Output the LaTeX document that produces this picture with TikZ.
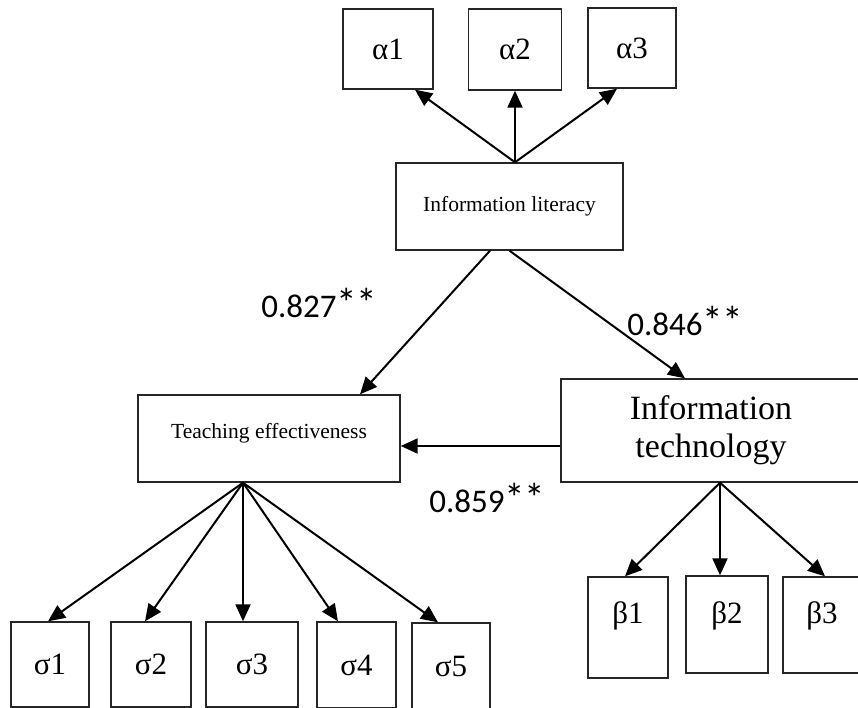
\documentclass[tikz,border=0pt]{standalone}
\usepackage{fontspec}
\setmainfont{Liberation Serif}
\newfontfamily\numfont{Carlito}
\usetikzlibrary{arrows.meta,calc}
\newcommand{\stars}{\raisebox{-0.5pt}{\scalebox{1.25}{*}}\kern-1pt\raisebox{-0.5pt}{\scalebox{1.25}{*}}}
\begin{document}
\begin{tikzpicture}[x=1pt,y=-1pt,
  box/.style 2 args={draw=black!85,line width=1.4pt,inner sep=0pt,minimum width=#1,minimum height=#2},
  greek/.style={font=\fontsize{31}{34}\selectfont},
  small/.style={font=\fontsize{21.5}{25}\selectfont},
  big/.style={font=\fontsize{34}{38}\selectfont,align=center},
  arr/.style={-{Triangle[length=17pt,width=15pt]},line width=2pt},
  lab/.style={font=\numfont\fontsize{33}{38}\selectfont}]
\useasboundingbox (0,0) rectangle (858,708);
\fill[white] (0,0) rectangle (858,708);
\clip (0,0) rectangle (858,708);
% top indicators
\node[box={90pt}{80pt},greek] (a1) at (388,49) {α1};
\node[box={93pt}{81pt},greek] (a2) at (515,49.5) {α2};
\node[box={88pt}{80pt},greek] (a3) at (632,48) {α3};
% constructs
\node[box={227pt}{87pt},small] (IL) at (509.5,206.5) {Information literacy};
\node[box={262pt}{87pt},small] (TE) at (269,438.5) {\raisebox{5.5pt}[\height][\depth]{Teaching effectiveness}};
\node[box={300pt}{103pt},big] (IT) at (711,430.5) {Information\\technology};
% beta indicators
\node[box={80pt}{101pt},greek] (b1) at (628,627.5) {\raisebox{12pt}[\height][\depth]{β1}};
\node[box={82pt}{97pt},greek] (b2) at (727,624.5) {\raisebox{9pt}[\height][\depth]{β2}};
\node[box={78pt}{96pt},greek] (b3) at (822,625) {\raisebox{9pt}[\height][\depth]{β3}};
% sigma indicators
\node[box={78pt}{85pt},greek] (s1) at (50,664.5) {σ1};
\node[box={80pt}{85pt},greek] (s2) at (151,664.5) {σ2};
\node[box={92pt}{85pt},greek] (s3) at (252,664.5) {σ3};
\node[box={79pt}{86pt},greek] (s4) at (356.5,665) {σ4};
\node[box={78pt}{86pt},greek] (s5) at (451,666) {σ5};
% arrows IL -> alpha
\coordinate (ILtop) at ([xshift=5.5pt]IL.north);
\draw[arr] (ILtop) -- ([xshift=27pt]a1.south);
\draw[arr] (ILtop) -- (a2.south);
\draw[arr] (ILtop) -- ([xshift=-15pt]a3.south);
% structural paths
\draw[arr] ([xshift=-19.5pt]IL.south) -- ([xshift=91pt]TE.north);
\draw[arr] (IL.south) -- ([xshift=-26pt]IT.north);
\draw[arr] ([yshift=-15.5pt]IT.west) -- ([yshift=-15.5pt]IT.west -| TE.east);
% TE -> sigma
\coordinate (TEbot) at ([xshift=-26pt]TE.south);
\draw[arr] (TEbot) -- ([xshift=-2pt]s1.north);
\draw[arr] (TEbot) -- ([xshift=-6pt]s2.north);
\draw[arr] (TEbot) -- ([xshift=-9pt]s3.north);
\draw[arr] (TEbot) -- ([xshift=-18.5pt]s4.north);
\draw[arr] (TEbot) -- ([xshift=-13pt]s5.north);
% IT -> beta
\coordinate (ITbot) at ([xshift=9pt]IT.south);
\draw[arr] (ITbot) -- ([xshift=-3pt]b1.north);
\draw[arr] (ITbot) -- ([xshift=-7pt]b2.north);
\draw[arr] (ITbot) -- ([xshift=3pt]b3.north);
% coefficients
\node[lab] (c1) at (319,303) {0.827\stars};
\node[lab] (c2) at (685,321) {0.846\stars};
\node[lab] (c3) at (487,498) {0.859\stars};
\end{tikzpicture}
\end{document}
